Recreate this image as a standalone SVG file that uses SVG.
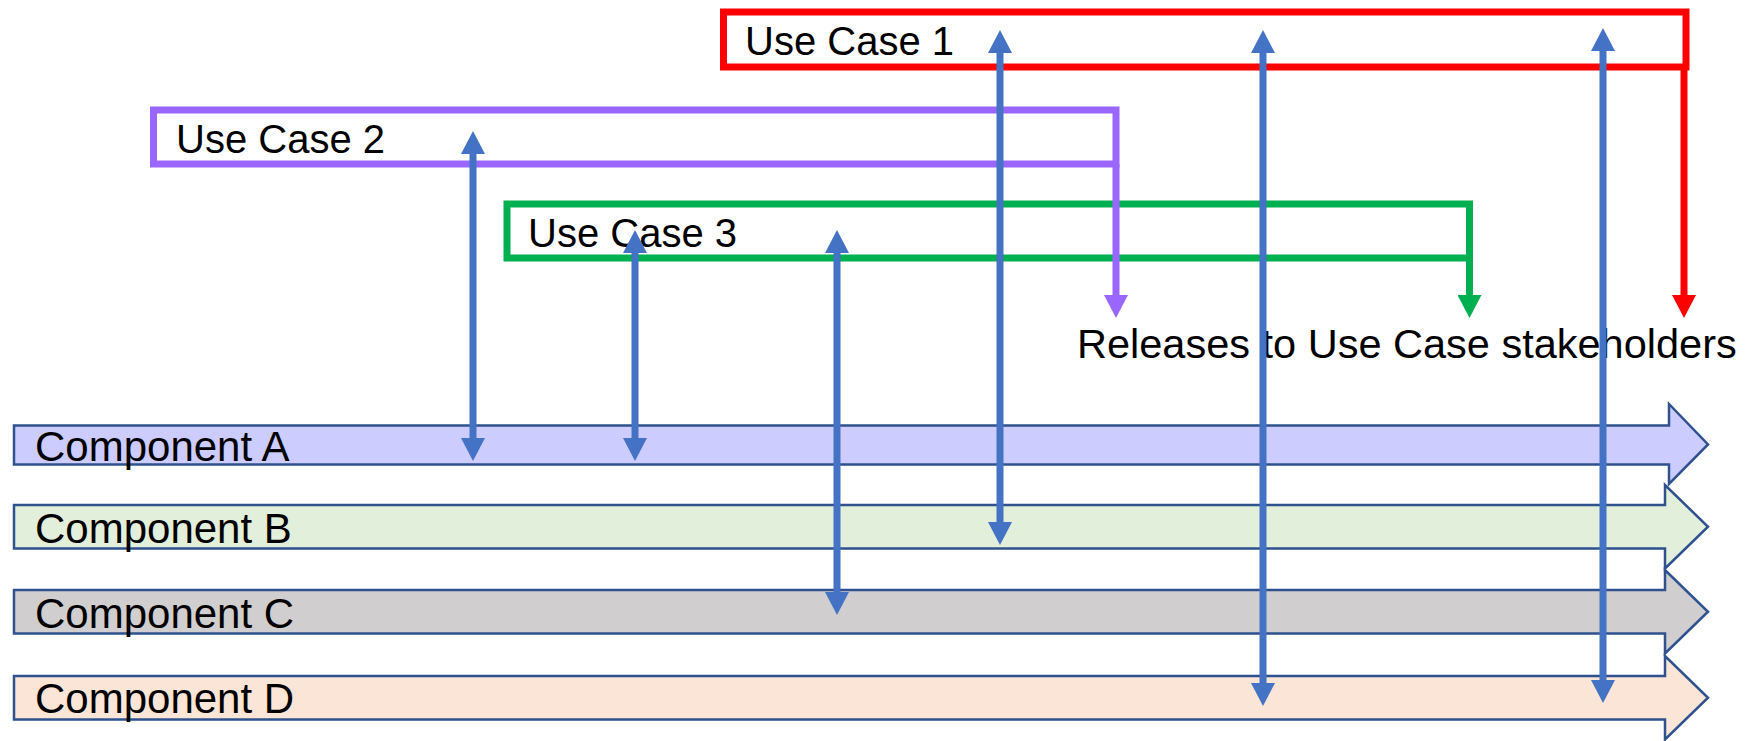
<svg xmlns="http://www.w3.org/2000/svg" width="1764" height="741" viewBox="0 0 1764 741">
  <style>
    .bar { stroke: #2F528F; stroke-width: 2.5; stroke-linejoin: miter; }
    .comp { font-family: "Liberation Sans", Arial, sans-serif; font-size: 42px; fill: #000; }
    .uc { font-family: "Liberation Sans", Arial, sans-serif; font-size: 40px; fill: #000; }
    .ucbox { fill: none; stroke-width: 7; }
    .blue { stroke: #4472C4; stroke-width: 7; fill: none; }
    .rel { stroke-width: 7; fill: none; }
  </style>
  <defs>
    <marker id="mBlue" viewBox="0 0 23 24" markerWidth="23" markerHeight="24" refX="0" refY="12" orient="auto-start-reverse" markerUnits="userSpaceOnUse">
      <path d="M0,0 L23,12 L0,24 z" fill="#4472C4"/>
    </marker>
    <marker id="mRed" viewBox="0 0 23 24" markerWidth="23" markerHeight="24" refX="0" refY="12" orient="auto" markerUnits="userSpaceOnUse">
      <path d="M0,0 L23,12 L0,24 z" fill="#FF0000"/>
    </marker>
    <marker id="mPurple" viewBox="0 0 23 24" markerWidth="23" markerHeight="24" refX="0" refY="12" orient="auto" markerUnits="userSpaceOnUse">
      <path d="M0,0 L23,12 L0,24 z" fill="#9966FF"/>
    </marker>
    <marker id="mGreen" viewBox="0 0 23 24" markerWidth="23" markerHeight="24" refX="0" refY="12" orient="auto" markerUnits="userSpaceOnUse">
      <path d="M0,0 L23,12 L0,24 z" fill="#00B050"/>
    </marker>
  </defs>

  <rect width="1764" height="741" fill="#FFFFFF"/>

  <g id="component-a">
    <polygon class="bar" fill="#CCCCFF" points="14,425.5 1669,425.5 1669,404 1708,444.5 1669,484 1669,464.5 14,464.5"/>
    <text class="comp" x="35" y="461">Component A</text>
  </g>
  <g id="component-b">
    <polygon class="bar" fill="#E2EFDA" points="14,505 1665,505 1665,485 1708,526.75 1665,568.5 1665,548.5 14,548.5"/>
    <text class="comp" x="35" y="543">Component B</text>
  </g>
  <g id="component-c">
    <polygon class="bar" fill="#D0CECE" points="14,590 1665,590 1665,570 1708,611.75 1665,653.5 1665,633.5 14,633.5"/>
    <text class="comp" x="35" y="628">Component C</text>
  </g>
  <g id="component-d">
    <polygon class="bar" fill="#FBE5D6" points="14,676 1665,676 1665,656 1708,697.75 1665,739.5 1665,719.5 14,719.5"/>
    <text class="comp" x="35" y="713">Component D</text>
  </g>

  <g id="use-case-1">
    <rect class="ucbox" stroke="#FF0000" x="723.5" y="12" width="962.5" height="55"/>
    <text class="uc" x="745" y="55">Use Case 1</text>
  </g>
  <g id="use-case-2">
    <rect class="ucbox" stroke="#9966FF" x="153.5" y="110" width="962.5" height="54"/>
    <text class="uc" x="176" y="153">Use Case 2</text>
  </g>
  <g id="use-case-3">
    <rect class="ucbox" stroke="#00B050" x="507" y="204" width="962.5" height="54"/>
    <text class="uc" x="528" y="247">Use Case 3</text>
  </g>

  <g id="releases-label">
    <text class="uc" style="font-size:41.5px" x="1077" y="358">Releases to Use Case stakeholders</text>
  </g>

  <g id="connectors">
    <line class="rel" stroke="#FF0000" x1="1684" y1="67" x2="1684" y2="295" marker-end="url(#mRed)"/>
    <line class="rel" stroke="#9966FF" x1="1116" y1="164" x2="1116" y2="295" marker-end="url(#mPurple)"/>
    <line class="rel" stroke="#00B050" x1="1469.5" y1="258" x2="1469.5" y2="295" marker-end="url(#mGreen)"/>

    <line class="blue" x1="473" y1="154" x2="473" y2="438" marker-start="url(#mBlue)" marker-end="url(#mBlue)"/>
    <line class="blue" x1="635" y1="253" x2="635" y2="438" marker-start="url(#mBlue)" marker-end="url(#mBlue)"/>
    <line class="blue" x1="837" y1="253" x2="837" y2="592" marker-start="url(#mBlue)" marker-end="url(#mBlue)"/>
    <line class="blue" x1="1000" y1="53" x2="1000" y2="522" marker-start="url(#mBlue)" marker-end="url(#mBlue)"/>
    <line class="blue" x1="1263" y1="53" x2="1263" y2="683" marker-start="url(#mBlue)" marker-end="url(#mBlue)"/>
    <line class="blue" x1="1603" y1="51" x2="1603" y2="680" marker-start="url(#mBlue)" marker-end="url(#mBlue)"/>
  </g>
</svg>
